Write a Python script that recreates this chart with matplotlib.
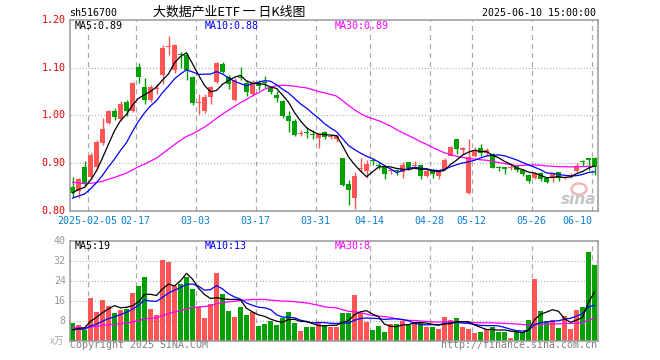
import numpy as np
import pandas as pd
import matplotlib
matplotlib.use("Agg")
from matplotlib import pyplot as plt
from matplotlib import transforms
from matplotlib.patches import Ellipse

plt.rcParams["lines.scale_dashes"] = False

W, H = 660, 360
MONO = "DejaVu Sans Mono"
CJK = ["Noto Sans CJK SC", "DejaVu Sans"]
RED = "#ff5555"
GREEN = "#00a000"

# trading days shown (Spring Festival, Qingming, May Day, Dragon Boat closed)
holidays = ["2025-01-28", "2025-01-29", "2025-01-30", "2025-01-31", "2025-02-03",
            "2025-02-04", "2025-04-04", "2025-05-01", "2025-05-02", "2025-05-05",
            "2025-06-02"]
days = pd.bdate_range("2025-01-23", "2025-06-10")
days = days[~days.isin(pd.to_datetime(holidays))]

tick_dates = ["2025-02-05", "2025-02-17", "2025-03-03", "2025-03-17", "2025-03-31",
              "2025-04-14", "2025-04-28", "2025-05-12", "2025-05-26", "2025-06-10"]

# daily OHLC
open_ = [0.851, 0.842, 0.893, 0.872, 0.893, 0.942, 0.985, 1.009, 0.992, 1.029,
         1.010, 1.101, 1.059, 1.032, 1.055, 1.085, 1.144, 1.095, 1.128, 1.127,
         1.081, 1.026, 1.010, 1.039, 1.071, 1.107, 1.081, 1.032, 1.080, 1.069,
         1.046, 1.069, 1.070, 1.058, 1.042, 1.031, 0.999, 0.988, 0.961, 0.965,
         0.960, 0.952, 0.965, 0.955, 0.951, 0.910, 0.857, 0.827, 0.888, 0.883,
         0.906, 0.896, 0.892, 0.884, 0.884, 0.882, 0.902, 0.894, 0.897, 0.874,
         0.884, 0.873, 0.889, 0.916, 0.950, 0.927, 0.838, 0.916, 0.931, 0.921,
         0.920, 0.892, 0.890, 0.891, 0.895, 0.886, 0.875, 0.870, 0.879, 0.869,
         0.870, 0.881, 0.870, 0.874, 0.884, 0.903, 0.910, 0.912]
high = [0.872, 0.870, 0.905, 0.921, 0.949, 0.994, 1.012, 1.015, 1.031, 1.033,
        1.071, 1.109, 1.078, 1.064, 1.067, 1.148, 1.166, 1.150, 1.133, 1.131,
        1.082, 1.046, 1.046, 1.062, 1.111, 1.113, 1.085, 1.078, 1.101, 1.075,
        1.075, 1.075, 1.083, 1.062, 1.051, 1.033, 1.010, 0.993, 0.970, 0.975,
        0.970, 0.963, 0.968, 0.962, 0.962, 0.912, 0.864, 0.881, 0.910, 0.906,
        0.911, 0.902, 0.895, 0.890, 0.889, 0.902, 0.903, 0.905, 0.899, 0.887,
        0.888, 0.885, 0.910, 0.937, 0.951, 0.934, 0.950, 0.934, 0.940, 0.931,
        0.922, 0.895, 0.893, 0.898, 0.896, 0.889, 0.877, 0.881, 0.881, 0.871,
        0.881, 0.882, 0.874, 0.879, 0.901, 0.906, 0.911, 0.914]
low = [0.830, 0.828, 0.852, 0.868, 0.889, 0.938, 0.982, 0.990, 0.989, 0.999,
       1.008, 1.069, 1.025, 1.029, 1.044, 1.067, 1.127, 1.089, 1.099, 1.074,
       1.022, 1.004, 1.006, 1.025, 1.069, 1.089, 1.055, 1.031, 1.075, 1.040,
       1.040, 1.054, 1.058, 1.044, 1.028, 0.994, 0.965, 0.957, 0.958, 0.952,
       0.950, 0.931, 0.950, 0.950, 0.944, 0.853, 0.813, 0.805, 0.881, 0.870,
       0.897, 0.888, 0.867, 0.878, 0.875, 0.869, 0.889, 0.888, 0.868, 0.871,
       0.869, 0.868, 0.888, 0.915, 0.920, 0.920, 0.836, 0.913, 0.915, 0.915,
       0.890, 0.884, 0.878, 0.885, 0.882, 0.874, 0.859, 0.868, 0.863, 0.858,
       0.861, 0.863, 0.866, 0.870, 0.882, 0.895, 0.885, 0.876]
close = [0.837, 0.866, 0.856, 0.917, 0.945, 0.972, 1.010, 0.996, 1.024, 1.010,
         1.069, 1.081, 1.032, 1.060, 1.057, 1.141, 1.146, 1.148, 1.126, 1.095,
         1.027, 1.028, 1.039, 1.059, 1.109, 1.092, 1.067, 1.074, 1.078, 1.050,
         1.069, 1.062, 1.068, 1.049, 1.036, 0.998, 0.989, 0.959, 0.962, 0.964,
         0.959, 0.961, 0.954, 0.957, 0.958, 0.855, 0.843, 0.873, 0.889, 0.899,
         0.905, 0.895, 0.878, 0.885, 0.883, 0.896, 0.890, 0.895, 0.873, 0.884,
         0.878, 0.883, 0.907, 0.935, 0.929, 0.931, 0.914, 0.928, 0.921, 0.928,
         0.891, 0.891, 0.889, 0.892, 0.886, 0.877, 0.863, 0.880, 0.868, 0.861,
         0.880, 0.870, 0.871, 0.875, 0.895, 0.902, 0.907, 0.892]
# volume, 10k lots
volume = [7.1, 6.4, 4.4, 16.9, 11.6, 16.4, 14.0, 10.9, 12.4, 12.8,
          19.2, 22.0, 25.6, 12.8, 10.4, 32.4, 31.6, 22.0, 22.8, 25.6,
          20.8, 13.6, 9.2, 14.8, 27.2, 18.8, 12.0, 9.6, 13.6, 10.4,
          11.6, 6.0, 6.8, 8.0, 6.4, 9.2, 11.6, 7.2, 4.0, 5.6,
          5.6, 7.6, 6.4, 5.3, 5.6, 11.2, 11.2, 18.4, 11.2, 7.6,
          4.4, 6.0, 3.6, 6.8, 6.8, 8.0, 6.4, 7.6, 7.2, 5.6,
          5.6, 4.8, 9.6, 8.4, 9.2, 5.6, 4.8, 3.2, 3.6, 4.8,
          5.6, 3.6, 3.6, 1.2, 3.6, 3.6, 8.4, 24.8, 12.0, 8.0,
          8.4, 5.2, 10.0, 4.8, 12.4, 13.6, 35.6, 30.4]

# sessions before the window, estimated so the moving averages start where the chart's do
pre_close = [0.905, 0.900, 0.898, 0.893, 0.890, 0.886, 0.884, 0.880, 0.878, 0.876,
             0.874, 0.872, 0.870, 0.866, 0.864, 0.862, 0.860, 0.857, 0.856, 0.862,
             0.822, 0.815, 0.810, 0.812, 0.821, 0.830, 0.835, 0.842, 0.846]
pre_volume = [6.2, 5.8, 5.1, 6.0, 5.4, 4.9, 5.7, 6.3, 5.2, 4.8,
              5.5, 5.9, 5.0, 5.6, 6.1, 5.3, 4.7, 5.4, 5.8, 5.3,
              4.6, 4.1, 4.4, 3.9, 4.5, 3.8, 3.2, 3.9, 3.5]

price_ticks = [0.80, 0.90, 1.00, 1.10, 1.20]
vol_ticks = [8, 16, 24, 32, 40]


def ma(pre, vals, n):
    s = pd.Series(list(pre) + list(vals)).rolling(n).mean().to_numpy()
    return s[len(pre):]


def fx(p):
    return p / W


def fy(p):
    return 1 - p / H


o = np.array(open_)
c = np.array(close)
x = np.arange(len(days))
up = c >= o
colors = np.where(up, RED, GREEN)
slots = [days.get_loc(pd.Timestamp(d)) for d in tick_dates]

fig = plt.figure(figsize=(W / 100, H / 100), dpi=100)
ax_p = fig.add_axes([fx(69.5), fy(211), 528 / W, 191 / H])
ax_v = fig.add_axes([fx(69.5), fy(340.5), 528 / W, 100 / H])

for ax in (ax_p, ax_v):
    ax.set_xlim(-0.5, len(days) - 0.5)
    ax.set_xticks([])
    ax.set_yticks([])
    for sp in ax.spines.values():
        sp.set_color("#999999")
        sp.set_linewidth(1.1)
    for s in slots:
        ax.axvline(s - 0.42, color="#aaaaaa", lw=0.9, ls=(0, (3.6, 2.9)), zorder=0)

# price panel
ax_p.set_ylim(0.80, 1.20)
for v in price_ticks[1:-1]:
    ax_p.axhline(v, color="#aaaaaa", lw=0.8, ls=(0, (0.75, 1.45)), zorder=0)
ax_p.vlines(x, low, high, colors=colors, lw=1.0, zorder=2)
ax_p.bar(x, np.maximum(np.abs(c - o), 0.0021), bottom=np.minimum(o, c),
         width=0.83, color=colors, linewidth=0, zorder=2)
for n, col in [(30, "#ff00ff"), (10, "#0000ff"), (5, "#000000")]:
    ax_p.plot(x, ma(pre_close, close, n), color=col, lw=0.9, zorder=3)

ty = transforms.blended_transform_factory(ax_p.transAxes, ax_p.transData)
for v in price_ticks:
    ax_p.text(-0.007, v, f"{v:.2f}", transform=ty, ha="right", va="center",
              family=MONO, fontsize=7.2, color="#ee0000")

tx = transforms.blended_transform_factory(ax_p.transData, fig.transFigure)
for k, (s, d) in enumerate(zip(slots, tick_dates)):
    lab = d if k == 0 else d[5:]
    last = k == len(slots) - 1
    ax_p.text(s - 0.42 if last else s - 0.6, fy(221), lab, transform=tx,
              ha="right" if last else "center", va="center",
              family=MONO, fontsize=7.2, color="#0a7fd4")

# volume panel
ax_v.set_ylim(0, 40)
for v in vol_ticks[:-1]:
    ax_v.axhline(v, color="#aaaaaa", lw=0.8, ls=(0, (0.75, 1.45)), zorder=0)
ax_v.bar(x, volume, width=0.83, color=colors, linewidth=0, zorder=2)
for n, col in [(30, "#ff00ff"), (10, "#0000ff"), (5, "#000000")]:
    ax_v.plot(x, ma(pre_volume, volume, n), color=col, lw=0.9, zorder=3)

tv = transforms.blended_transform_factory(ax_v.transAxes, ax_v.transData)
for v in vol_ticks:
    ax_v.text(-0.007, v, f"{v}", transform=tv, ha="right", va="center",
              family=MONO, fontsize=7.2, color="#999999")
fig.text(fx(64), fy(341), "x万", ha="right", va="center", family=CJK,
         fontsize=7, color="#aaaaaa")

# header and legends
fig.text(fx(69.5), fy(12.5), "sh516700", family=MONO, fontsize=7.2, va="center")
fig.text(fx(229), fy(12.5), "大数据产业ETF 一 日K线图", family=CJK, fontsize=9.3,
         ha="center", va="center")
fig.text(fx(596.5), fy(12.5), "2025-06-10 15:00:00", family=MONO, fontsize=7.2,
         ha="right", va="center")

for xp, txt, col in [(74.5, "MA5:0.89", "#000000"), (205, "MA10:0.88", "#0000ff"),
                     (334.5, "MA30:0.89", "#ff00ff")]:
    fig.text(fx(xp), fy(26), txt, family=MONO, fontsize=7.2, color=col, va="center")
for xp, txt, col in [(74.5, "MA5:19", "#000000"), (205, "MA10:13", "#0000ff"),
                     (334.5, "MA30:8", "#ff00ff")]:
    fig.text(fx(xp), fy(246), txt, family=MONO, fontsize=7.2, color=col, va="center")

fig.text(fx(70), fy(345.5), "Copyright 2025 SINA.COM", family=MONO, fontsize=7.2,
         color="#808080", va="center")
fig.text(fx(597.5), fy(345.5), "http://finance.sina.com.cn", family=MONO,
         fontsize=7.2, color="#808080", ha="right", va="center")

# sina watermark
fig.patches.append(Ellipse((fx(579), fy(189)), 15 / W, 11 / H, transform=fig.transFigure,
                           fill=False, edgecolor="#f2b8b8", lw=1.8))
fig.text(fx(596), fy(199), "sina", fontsize=11, fontweight="bold", style="italic",
         color="#c4c4c4", ha="right", va="center")

fig.savefig("out.png", dpi=100)
